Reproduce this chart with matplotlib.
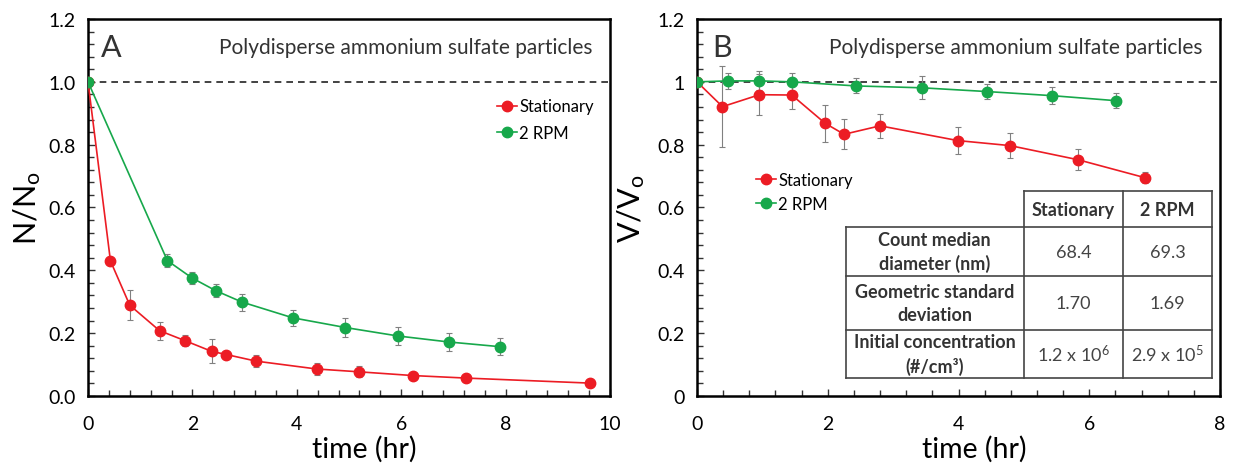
import matplotlib.pyplot as plt
import numpy as np
from matplotlib.ticker import MultipleLocator, FormatStrFormatter, FuncFormatter

plt.rcParams['font.family'] = ['Lato', 'DejaVu Sans']
plt.rcParams['mathtext.fontset'] = 'custom'
plt.rcParams['mathtext.rm'] = 'Lato'
plt.rcParams['mathtext.it'] = 'Lato:italic'
plt.rcParams['mathtext.bf'] = 'Lato:bold'

red = '#ec1c24'
green = '#17a84b'
errc = '#808080'

# panel A : number concentration N/No
a_stat_t = [0, 0.43, 0.80, 1.37, 1.86, 2.37, 2.65, 3.22, 4.38, 5.19, 6.23, 7.25, 9.62]
a_stat_y = [1.0, 0.430, 0.289, 0.208, 0.176, 0.142, 0.132, 0.111, 0.086, 0.077, 0.065, 0.057, 0.041]
a_stat_e = [0, 0, 0.047, 0.029, 0.017, 0.038, 0, 0.020, 0.020, 0.018, 0, 0, 0]
a_rpm_t = [0, 1.52, 1.99, 2.45, 2.95, 3.92, 4.93, 5.94, 6.91, 7.89]
a_rpm_y = [1.0, 0.431, 0.376, 0.335, 0.299, 0.249, 0.218, 0.191, 0.172, 0.157]
a_rpm_e = [0, 0.020, 0.020, 0.020, 0.027, 0.025, 0.030, 0.028, 0.028, 0.027]

# panel B : volume concentration V/Vo
b_stat_t = [0, 0.39, 0.955, 1.45, 1.96, 2.25, 2.80, 3.99, 4.79, 5.83, 6.85]
b_stat_y = [1.0, 0.921, 0.959, 0.958, 0.868, 0.833, 0.860, 0.813, 0.797, 0.752, 0.695]
b_stat_e = [0, 0.130, 0.066, 0.046, 0.059, 0.048, 0.038, 0.044, 0.040, 0.034, 0.017]
b_rpm_t = [0, 0.48, 0.955, 1.45, 2.43, 3.44, 4.44, 5.43, 6.41]
b_rpm_y = [1.0, 1.003, 1.003, 1.000, 0.987, 0.981, 0.969, 0.956, 0.940]
b_rpm_e = [0, 0.025, 0.030, 0.028, 0.024, 0.037, 0.023, 0.027, 0.023]

tab_cols = ['Stationary', '2 RPM']
tab_rows = ['Count median\ndiameter (nm)', 'Geometric standard\ndeviation',
            'Initial concentration\n(#/cm\u00b3)']
tab_vals = [['68.4', '69.3'], ['1.70', '1.69'],
            [r'1.2 x 10$^{6}$', r'2.9 x 10$^{5}$']]

fig = plt.figure(figsize=(12.33, 4.64), dpi=100)
axA = fig.add_axes([88/1233, 1-397/464, 522/1233, 377/464])
axB = fig.add_axes([697/1233, 1-397/464, 523/1233, 377/464])


def series(ax, t, y, e, color, label):
    ax.errorbar(t, y, yerr=e, fmt='none', ecolor=errc, elinewidth=0.8,
                capsize=2.5, capthick=0.8, zorder=2)
    ax.plot(t, y, '-o', color=color, lw=1.2, ms=7.5, mec=color,
            label=label, zorder=3)


def style(ax, xmax, yfmt):
    ax.set_xlim(0, xmax)
    ax.set_ylim(0, 1.2)
    ax.axhline(1.0, color='#222222', lw=1.2, ls=(0, (4, 3)), zorder=1)
    ax.xaxis.set_major_locator(MultipleLocator(2))
    ax.xaxis.set_minor_locator(MultipleLocator(0.4))
    ax.yaxis.set_major_locator(MultipleLocator(0.2))
    ax.yaxis.set_minor_locator(MultipleLocator(0.04))
    ax.yaxis.set_major_formatter(yfmt)
    ax.tick_params(which='both', direction='in', top=False, right=False,
                   width=1.0, color='#333333')
    ax.tick_params(which='major', length=5, labelsize=14)
    ax.tick_params(which='minor', length=4)
    ax.tick_params(axis='x', which='major', pad=14)
    ax.tick_params(axis='y', which='major', pad=9)
    for s in ax.spines.values():
        s.set_linewidth(1.8)
    ax.set_xlabel('time (hr)', fontsize=20.5)
    ax.xaxis.set_label_coords(0.53, -0.104)
    ax.text(0.966, 0.925, 'Polydisperse ammonium sulfate particles',
            transform=ax.transAxes, ha='right', va='center', fontsize=15,
            color='#333333')


# --- panel A ---
series(axA, a_stat_t, a_stat_y, a_stat_e, red, 'Stationary')
series(axA, a_rpm_t, a_rpm_y, a_rpm_e, green, '2 RPM')
style(axA, 10, FormatStrFormatter('%.1f'))
axA.set_ylabel(r'$\mathrm{N/N_o}$', fontsize=22, labelpad=4)
axA.text(0.025, 0.925, 'A', transform=axA.transAxes, ha='left', va='center',
         fontsize=22, color='#333333')
axA.legend(loc='upper left', bbox_to_anchor=(0.77, 0.807), frameon=False,
           fontsize=12, handlelength=1.2, handletextpad=0.15,
           labelspacing=0.65, borderaxespad=0)

# --- panel B ---
series(axB, b_stat_t, b_stat_y, b_stat_e, red, 'Stationary')
series(axB, b_rpm_t, b_rpm_y, b_rpm_e, green, '2 RPM')
style(axB, 8, FuncFormatter(lambda v, p: '%g' % round(v, 2)))
axB.set_ylabel(r'$\mathrm{V/V_o}$', fontsize=22, labelpad=7)
axB.text(0.03, 0.925, 'B', transform=axB.transAxes, ha='left', va='center',
         fontsize=22, color='#333333')
axB.legend(loc='upper left', bbox_to_anchor=(0.1, 0.613), frameon=False,
           fontsize=12, handlelength=1.2, handletextpad=0.15,
           labelspacing=0.5, borderaxespad=0)

# summary table drawn in axes fractions
xs = [0.284, 0.625, 0.815, 0.985]
ys = [0.544, 0.448, 0.318, 0.175, 0.048]
lc = '#444444'
tr = axB.transAxes
axB.fill([xs[0], xs[3], xs[3], xs[0]], [ys[1], ys[1], ys[4], ys[4]],
         color='white', transform=tr, zorder=4)
axB.fill([xs[1], xs[3], xs[3], xs[1]], [ys[0], ys[0], ys[1], ys[1]],
         color='white', transform=tr, zorder=4)
axB.plot([xs[1], xs[3]], [ys[0], ys[0]], color=lc, lw=1.2, transform=tr, zorder=5)
for yy in ys[1:]:
    axB.plot([xs[0], xs[3]], [yy, yy], color=lc, lw=1.2, transform=tr, zorder=5)
axB.plot([xs[0], xs[0]], [ys[1], ys[4]], color=lc, lw=1.2, transform=tr, zorder=5)
for xx in xs[1:]:
    axB.plot([xx, xx], [ys[0], ys[4]], color=lc, lw=1.2, transform=tr, zorder=5)

for j, c in enumerate(tab_cols):
    axB.text((xs[j+1] + xs[j+2]) / 2, (ys[0] + ys[1]) / 2, c, transform=tr,
             ha='center', va='center', fontsize=13, fontweight='bold',
             color='#333333', zorder=6)
for i, r in enumerate(tab_rows):
    yc = (ys[i+1] + ys[i+2]) / 2
    axB.text((xs[0] + xs[1]) / 2, yc, r, transform=tr, ha='center',
             va='center', fontsize=13, fontweight='bold', color='#333333',
             linespacing=1.4, zorder=6)
    for j in range(2):
        axB.text((xs[j+1] + xs[j+2]) / 2, yc, tab_vals[i][j], transform=tr,
                 ha='center', va='center', fontsize=13, color='#444444',
                 zorder=6)

fig.savefig('out.png', dpi=100)
